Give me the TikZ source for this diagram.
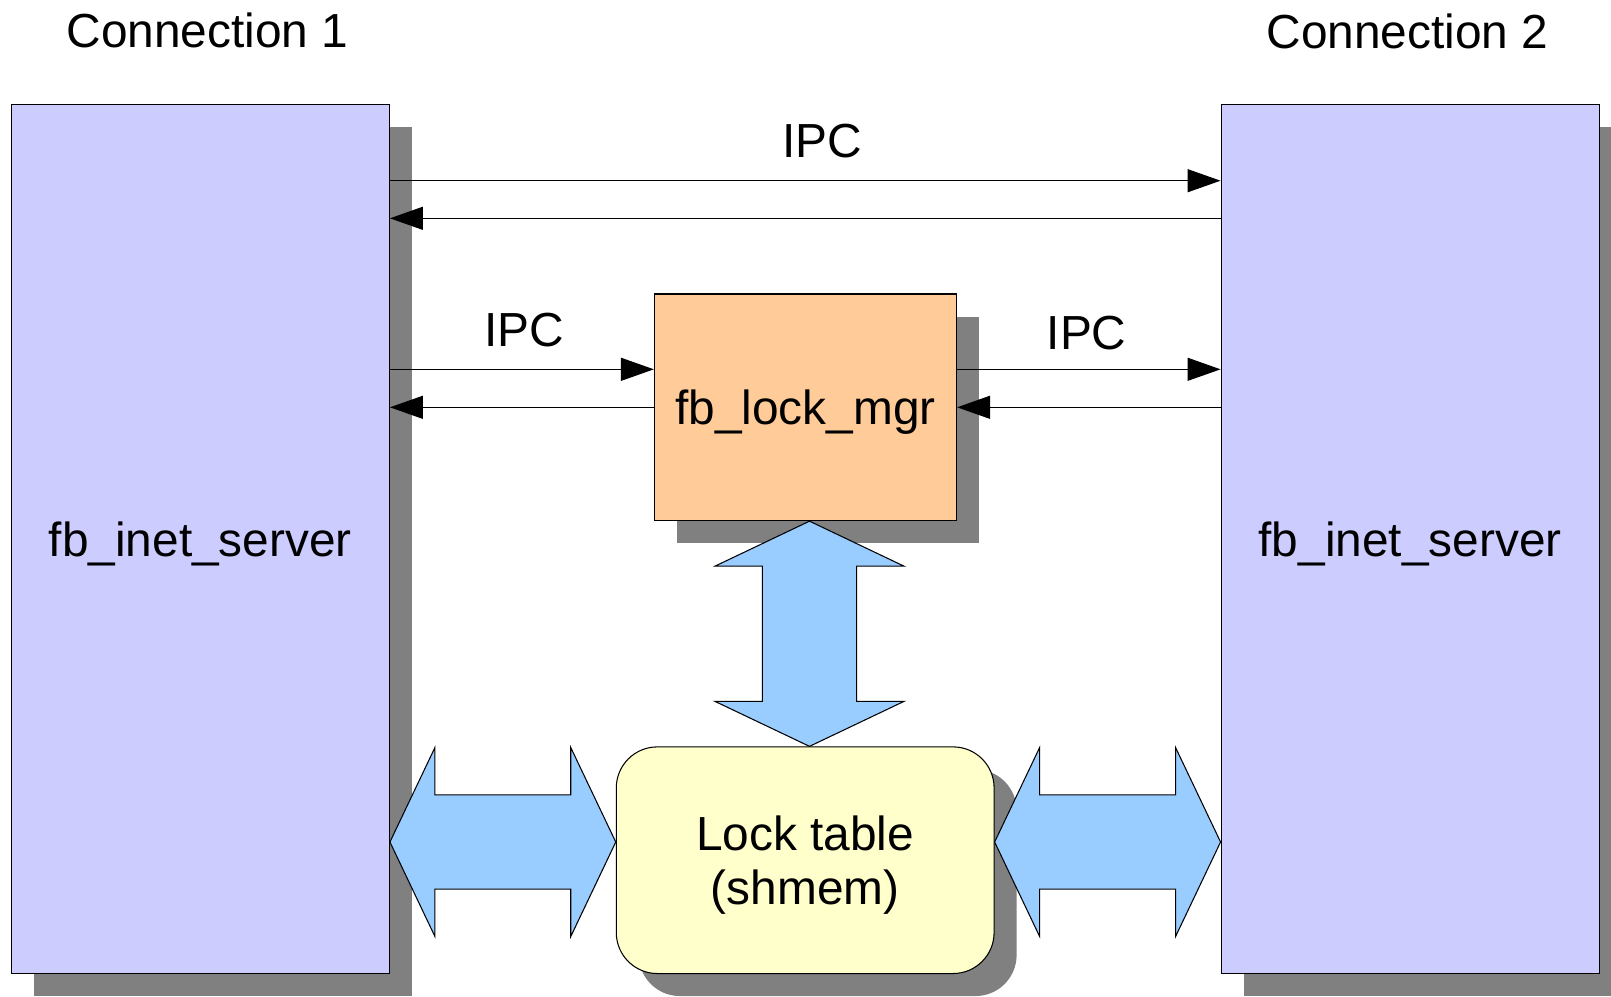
\documentclass[tikz,border=0pt]{standalone}
\usepackage{fontspec}
\setmainfont{Liberation Sans}
\usetikzlibrary{arrows.meta,shadows,calc}
\definecolor{srvblue}{HTML}{CCCCFF}
\definecolor{mgrorange}{HTML}{FFCC99}
\definecolor{tblyellow}{HTML}{FFFFCC}
\definecolor{arrowblue}{HTML}{99CCFF}
\definecolor{shadowgray}{HTML}{808080}
\newcommand\hblockarrow[2]{%
  \draw[blockarrow] (#1) -- ($(#1)+(45,-94.5)$) -- ($(#1)+(45,-47.2)$)
    -- ($(#2)+(-45,-47.2)$) -- ($(#2)+(-45,-94.5)$) -- (#2)
    -- ($(#2)+(-45,94.5)$) -- ($(#2)+(-45,47.2)$)
    -- ($(#1)+(45,47.2)$) -- ($(#1)+(45,94.5)$) -- cycle;}
\newcommand\vblockarrow[2]{%
  \draw[blockarrow] (#1) -- ($(#1)+(94.5,45)$) -- ($(#1)+(47.2,45)$)
    -- ($(#2)+(47.2,-45)$) -- ($(#2)+(94.5,-45)$) -- (#2)
    -- ($(#2)+(-94.5,-45)$) -- ($(#2)+(-47.2,-45)$)
    -- ($(#1)+(-47.2,45)$) -- ($(#1)+(-94.5,45)$) -- cycle;}
\begin{document}
\begin{tikzpicture}[x=0.01cm, y=-0.01cm,
  lbl/.style={font=\fontsize{13.6}{15.1}\selectfont, text depth=0pt, inner sep=0pt},
  shadebox/.style={draw, line width=0.3pt, lbl, align=center,
    drop shadow={shadow xshift=0.225cm, shadow yshift=-0.225cm, fill=shadowgray, opacity=1}},
  server/.style={shadebox, fill=srvblue, minimum width=3.78cm, minimum height=8.685cm},
  ipc/.style={line width=0.35pt, -{Triangle[length=0.33cm, width=0.23cm]}},
  blockarrow/.style={draw, line width=0.3pt, fill=arrowblue, line join=miter}
]
\useasboundingbox (0,0) rectangle (1611,996);

% boxes
\node[server] (srvL) at (200.3,539.3) {fb\_inet\_server};
\node[server] (srvR) at (1410.2,539.3) {fb\_inet\_server};
\node[shadebox, fill=mgrorange, minimum width=3.02cm, minimum height=2.265cm] (mgr) at (805.5,407.3) {fb\_lock\_mgr};
\node[shadebox, fill=tblyellow, rounded corners=0.41cm, minimum width=3.776cm, minimum height=2.265cm] (tbl) at (805.2,860.2) {Lock table\\(shmem)};

% labels
\node[lbl] (c1) at (207.5,30.5) {Connection 1};
\node[lbl] (c2) at (1407.5,30.8) {Connection 2};
\node[lbl] (ipcTop) at (822,141) {IPC};
\node[lbl] (ipcL) at (524.5,329.5) {IPC};
\node[lbl] (ipcR) at (1086.6,332.5) {IPC};

% rows
\coordinate (rowA) at (0,180.7);
\coordinate (rowB) at (0,218.3);
\coordinate (rowC) at (0,369.3);
\coordinate (rowD) at (0,407.3);
\coordinate (rowE) at (0,842);

% IPC connectors
\draw[ipc] (srvL.east |- rowA) -- (srvR.west |- rowA);
\draw[ipc] (srvR.west |- rowB) -- (srvL.east |- rowB);
\draw[ipc] (srvL.east |- rowC) -- (mgr.west |- rowC);
\draw[ipc] (mgr.west |- rowD) -- (srvL.east |- rowD);
\draw[ipc] (mgr.east |- rowC) -- (srvR.west |- rowC);
\draw[ipc] (srvR.west |- rowD) -- (mgr.east |- rowD);

% block arrows
\coordinate (la) at (srvL.east |- rowE);
\coordinate (lb) at (tbl.west |- rowE);
\coordinate (ra) at (tbl.east |- rowE);
\coordinate (rb) at (srvR.west |- rowE);
\coordinate (va) at ($(mgr.south)+(4,0)$);
\coordinate (vb) at ($(tbl.north)+(4.3,0)$);
\hblockarrow{la}{lb}
\hblockarrow{ra}{rb}
\vblockarrow{va}{vb}
\end{tikzpicture}
\end{document}
